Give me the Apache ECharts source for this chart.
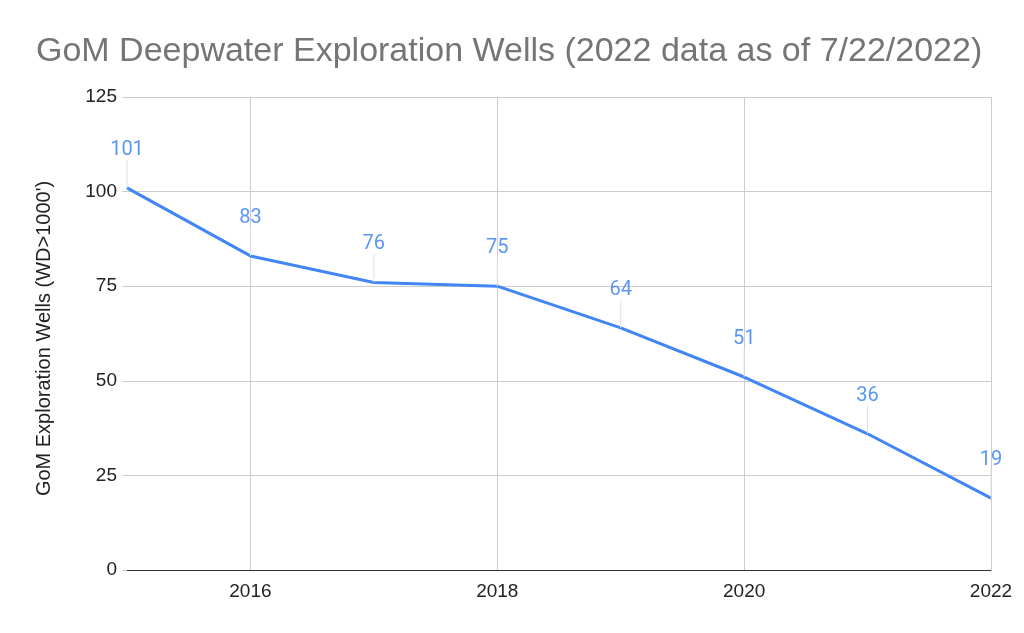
<!DOCTYPE html>
<html><head><meta charset="utf-8">
<script src="https://cdn.jsdelivr.net/npm/echarts@6/dist/echarts.min.js"></script>
<style>html,body{margin:0;padding:0;background:#fff}#c{width:1024px;height:633px}</style>
</head><body><div id="c"></div>
<script>
var years = ['2015','2016','2017','2018','2019','2020','2021','2022'];
var wells = [101, 83, 76, 75, 64, 51, 36, 19];
var yTicks = {min: 0, max: 125, interval: 25};

var chart = echarts.init(document.getElementById('c'));
chart.setOption({
  animation: false,
  title: {
    text: 'GoM Deepwater Exploration Wells (2022 data as of 7/22/2022)',
    left: 31, top: 30,
    textStyle: {fontFamily: 'Liberation Sans', fontSize: 34, fontWeight: 'normal', color: '#757575'}
  },
  grid: {left: 127, right: 33, top: 97, bottom: 63},
  xAxis: {
    type: 'category', data: years, boundaryGap: false,
    axisLine: {lineStyle: {color: '#333', width: 1}},
    axisTick: {show: false},
    axisLabel: {
      interval: function (i) { return i % 2 === 1; },
      fontFamily: 'Liberation Sans', fontSize: 19, color: '#222', margin: 12
    },
    splitLine: {show: true, interval: function (i) { return i % 2 === 1; }, lineStyle: {color: '#cccccc', width: 1}}
  },
  yAxis: {
    type: 'value', min: yTicks.min, max: yTicks.max, interval: yTicks.interval,
    name: "GoM Exploration Wells (WD>1000')",
    nameLocation: 'middle', nameGap: 73,
    nameTextStyle: {fontFamily: 'Liberation Sans', fontSize: 20, color: '#222', padding: [0, 10, 0, 0]},
    axisLine: {show: false},
    axisTick: {show: true, length: 5, lineStyle: {color: '#cccccc'}},
    axisLabel: {fontFamily: 'Liberation Sans', fontSize: 19, color: '#222', margin: 10},
    splitLine: {lineStyle: {color: '#cccccc', width: 1}}
  },
  series: [{
    type: 'line', data: wells,
    symbol: 'circle', symbolSize: 0.1,
    lineStyle: {color: '#4285f4', width: 3},
    itemStyle: {color: '#4285f4'},
    label: {show: true, position: 'top', distance: 5, fontFamily: 'Roboto', fontSize: 20, color: '#5b95f5'},
    labelLayout: {dy: -23},
    labelLine: {show: true, lineStyle: {color: '#e0e0e0', width: 1}}
  }]
});
</script></body></html>
